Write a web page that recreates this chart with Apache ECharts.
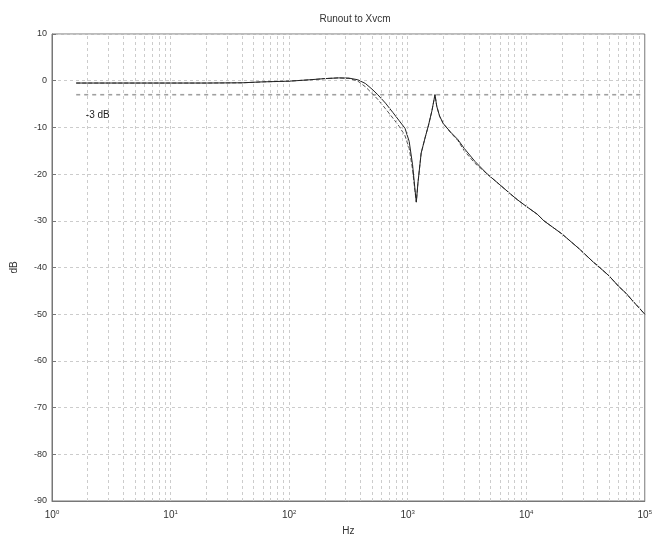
<!DOCTYPE html>
<html>
<head>
<meta charset="utf-8">
<script src="https://cdn.jsdelivr.net/npm/echarts@6/dist/echarts.min.js"></script>
<style>
  html, body { margin: 0; padding: 0; background: #fff; }
  #chart { width: 655px; height: 541px; }
</style>
</head>
<body>
<div id="chart"></div>
<script>
// Frequency points (Hz) of the magnitude response
const freqHz = [1.6, 3, 10, 20, 40, 60, 100, 150, 200, 260, 320, 380, 440, 500, 560, 650, 750, 850, 950,
  1030, 1100, 1150, 1183, 1220, 1300, 1400, 1500, 1600, 1700, 1760, 1860, 2000, 2300, 2650, 3000, 3700,
  4700, 6000, 7400, 8440, 10000, 12400, 14100, 20000, 28000, 37000, 40000, 50000, 60000, 70000, 80000,
  90000, 100000];

// Magnitude (dB), solid trace
const magSolid = [-0.5, -0.5, -0.5, -0.5, -0.45, -0.25, -0.1, 0.2, 0.45, 0.6, 0.55, 0.2, -0.6, -1.8, -3.0,
  -4.8, -6.8, -8.6, -10.2, -13, -18, -23, -26, -22, -15.5, -12.3, -9.5, -6.5, -3.0, -5.5, -7.6, -9.2, -11,
  -12.6, -14.5, -17.3, -20, -22.3, -24.3, -25.5, -26.9, -28.6, -30, -32.8, -36, -38.9, -39.6, -41.8, -44.0,
  -45.6, -47.3, -48.7, -50];

// Magnitude (dB), dashed trace
const magDashed = [-0.5, -0.5, -0.5, -0.5, -0.45, -0.25, -0.1, 0.2, 0.45, 0.6, 0.5, -0.1, -1.3, -2.7, -4.0,
  -6.0, -8.0, -9.8, -11.8, -14.5, -19, -23.5, -26, -22, -15.5, -12.3, -9.5, -6.5, -3.0, -5.5, -7.6, -9.2,
  -11.1, -12.8, -15.0, -17.7, -20, -22.3, -24.3, -25.5, -26.9, -28.6, -30, -32.8, -36, -38.9, -39.6, -41.8,
  -44.0, -45.6, -47.3, -48.7, -50];

// -3 dB reference level and its label
const refLevel = -3;
const refLabel = '-3 dB';
const refLabelAt = [1.75, -7.3];

// Axis ranges
const yTicks = { min: -90, max: 10, step: 10 };
const decades = [0, 1, 2, 3, 4, 5];

// Vertical grid positions: 2..9 within every decade plus the inner decade lines
const vGrid = [];
for (let k = 0; k < decades.length - 1; k++) {
  for (let m = 1; m <= 9; m++) {
    if (m === 1 && k === 0) continue;
    vGrid.push(m * Math.pow(10, k));
  }
}

const gridStyle = { color: '#cccccc', width: 1, type: [3, 3] };

const chart = echarts.init(document.getElementById('chart'), null, { renderer: 'canvas' });

chart.setOption({
  animation: false,
  backgroundColor: '#fff',
  textStyle: { fontFamily: 'Liberation Sans, Arial, sans-serif' },
  title: {
    text: 'Runout to Xvcm',
    left: 350, top: 9, textAlign: 'center',
    textStyle: { fontSize: 10, fontWeight: 'normal', color: '#333' }
  },
  grid: {
    left: 52, right: 7, top: 34, bottom: 37,
    show: true, borderColor: '#777', borderWidth: 1
  },
  xAxis: {
    type: 'log', logBase: 10, min: 1, max: 100000,
    name: 'Hz', nameLocation: 'middle', nameGap: 25,
    nameTextStyle: { fontSize: 10, color: '#333' },
    axisLine: { onZero: false, lineStyle: { color: '#777' } },
    axisTick: { show: false },
    splitLine: { show: false },
    axisLabel: {
      margin: 8, color: '#333',
      formatter: v => '10{s|' + Math.round(Math.log10(v)) + '}',
      rich: { s: { fontSize: 6, verticalAlign: 'top', padding: [0, 0, 7, 0] } },
      fontSize: 10
    }
  },
  yAxis: {
    type: 'value', min: yTicks.min, max: yTicks.max, interval: yTicks.step,
    name: 'dB', nameLocation: 'middle', nameGap: 33,
    nameTextStyle: { fontSize: 10, color: '#333' },
    axisLine: { show: true, onZero: false, lineStyle: { color: '#777' } },
    axisTick: { show: true, inside: true, length: 4, lineStyle: { color: '#777' } },
    splitLine: { show: true, lineStyle: gridStyle },
    axisLabel: { fontSize: 9, color: '#333', margin: 5 }
  },
  series: [
    {
      name: 'ref',
      type: 'line',
      data: [[freqHz[0], refLevel], [freqHz[freqHz.length - 1], refLevel]],
      showSymbol: false,
      silent: true,
      z: 1,
      lineStyle: { color: '#a0a0a0', width: 1.6, type: [4, 4] },
      markLine: {
        silent: true, symbol: 'none', label: { show: false },
        lineStyle: gridStyle,
        data: vGrid.map(v => ({ xAxis: v }))
      },
      markPoint: {
        symbol: 'circle', symbolSize: 0,
        data: [{ coord: refLabelAt, value: refLabel }],
        label: {
          show: true, formatter: refLabel, position: 'right', offset: [0, 0],
          fontSize: 10, color: '#222'
        }
      }
    },
    {
      name: 'dashed',
      type: 'line',
      data: freqHz.map((f, i) => [f, magDashed[i]]),
      showSymbol: false, smooth: false, z: 3,
      lineStyle: { color: '#555', width: 1, type: [4, 2] }
    },
    {
      name: 'solid',
      type: 'line',
      data: freqHz.map((f, i) => [f, magSolid[i]]),
      showSymbol: false, smooth: false, z: 4,
      lineStyle: { color: '#222', width: 1 }
    }
  ]
});
</script>
</body>
</html>
